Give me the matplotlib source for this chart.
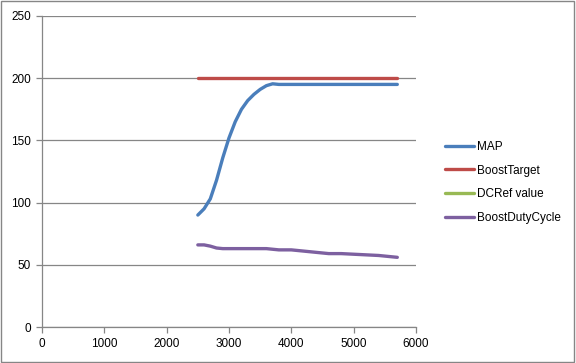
import matplotlib.pyplot as plt
from matplotlib.patches import Rectangle

rpm = [2500, 2600, 2700, 2800, 2900, 3000, 3100, 3200, 3300, 3400, 3500, 3600,
       3700, 3800, 4000, 4200, 4400, 4600, 4800, 5000, 5200, 5400, 5600, 5700]
map_kpa = [90, 95, 103, 118, 136, 152, 165, 175, 182, 187, 191, 194,
           195.5, 195, 195, 195, 195, 195, 195, 195, 195, 195, 195, 195]
boost_target = [200] * len(rpm)
dc_ref = []
boost_duty = [66, 66, 65, 63.5, 63, 63, 63, 63, 63, 63, 63, 63,
              62.5, 62, 62, 61, 60, 59, 59, 58.5, 58, 57.5, 56.5, 56]

series = [
    ("MAP", rpm, map_kpa, "#4A7EBB"),
    ("BoostTarget", rpm, boost_target, "#BE4B48"),
    ("DCRef value", rpm[:len(dc_ref)], dc_ref, "#98B954"),
    ("BoostDutyCycle", rpm, boost_duty, "#7D60A0"),
]

plt.rcParams['font.family'] = ['Liberation Sans', 'DejaVu Sans']

fig = plt.figure(figsize=(5.76, 3.63), dpi=100)
ax = fig.add_axes([42 / 576, 1 - 327 / 363, 374 / 576, 311 / 363])

grid_c = "#868686"
for label, x, y, c in series:
    ax.plot(x, y, color=c, lw=2.4, label=label, solid_capstyle='round')

ax.set_xlim(0, 6000)
ax.set_ylim(0, 250)
ax.set_xticks(range(0, 6001, 1000))
ax.set_yticks(range(0, 251, 50))
ax.yaxis.grid(True, color=grid_c, lw=0.9)
ax.set_axisbelow(True)
for s in ("top", "right"):
    ax.spines[s].set_visible(False)
for s in ("left", "bottom"):
    ax.spines[s].set_color(grid_c)
    ax.spines[s].set_linewidth(0.9)
ax.tick_params(colors=grid_c, labelcolor="black", labelsize=8.5, length=4, width=0.9, pad=4)

fig.legend(loc="upper left", bbox_to_anchor=(440 / 576, 1 - 136 / 363),
           frameon=False, fontsize=8.5, handlelength=2.5, handletextpad=0.2,
           labelspacing=1.0, borderaxespad=0)

fig.patches.append(Rectangle((0.002, 0.003), 0.995, 0.994, transform=fig.transFigure,
                             fill=False, edgecolor=grid_c, lw=1.0))

fig.savefig("out.png", dpi=100)
